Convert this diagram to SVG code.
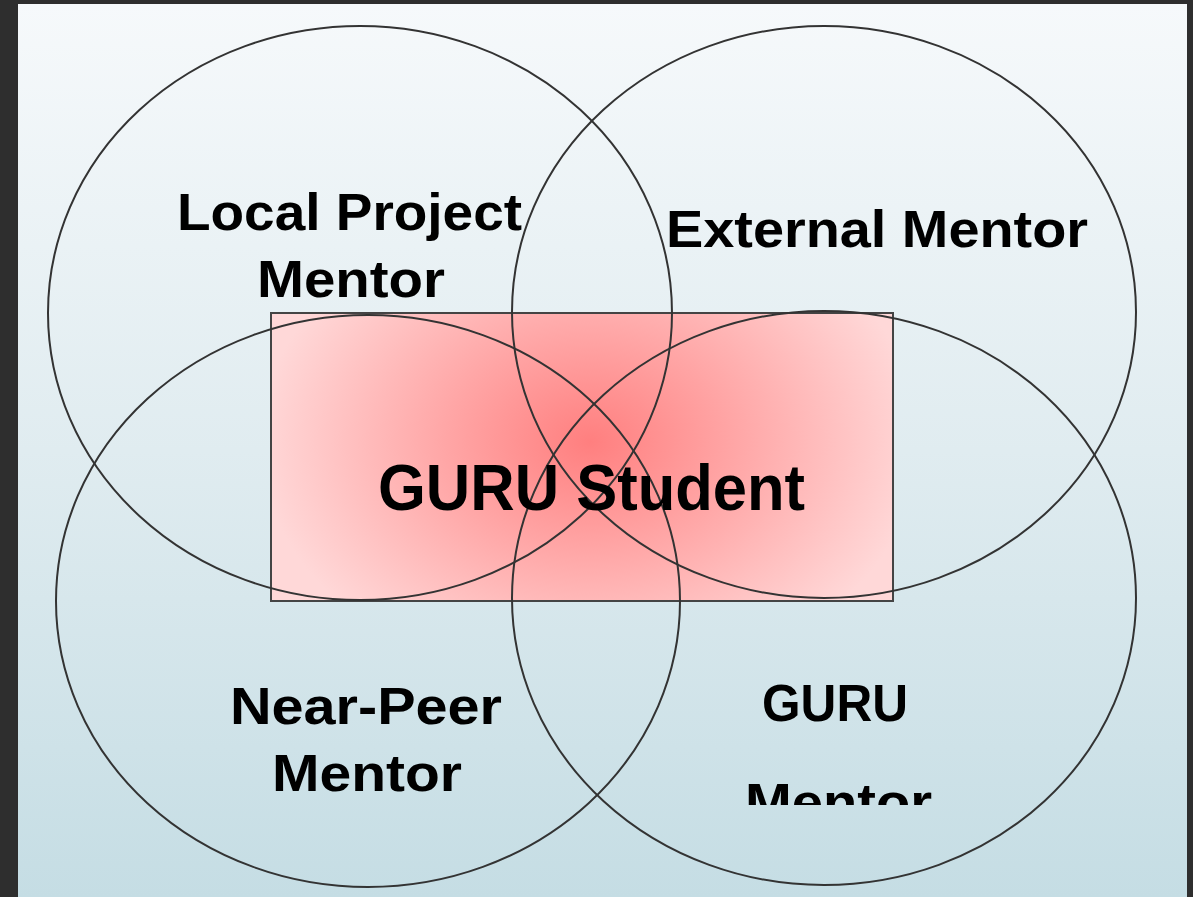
<svg xmlns="http://www.w3.org/2000/svg" width="1193" height="897" viewBox="0 0 1193 897">
<defs>
<linearGradient id="bg" x1="0" y1="0" x2="0" y2="1">
<stop offset="0" stop-color="#f6f9fb"/>
<stop offset="0.5" stop-color="#e0ecf0"/>
<stop offset="1" stop-color="#c5dde4"/>
</linearGradient>
<radialGradient id="rg" gradientUnits="userSpaceOnUse" cx="590" cy="442" r="330" gradientTransform="translate(590 442) scale(1 0.75) translate(-590 -442)">
<stop offset="0" stop-color="#ff7f7f"/>
<stop offset="1" stop-color="#ffd8d8"/>
</radialGradient>
<clipPath id="cut"><rect x="0" y="0" width="1193" height="805"/></clipPath>
<style>
.c{fill:none;stroke:#333;stroke-width:2}
.t{font-family:"Liberation Sans",Arial,sans-serif;font-weight:bold;font-size:52px;fill:#000;text-anchor:middle}
.b{font-size:65px}
</style>
</defs>
<rect x="0" y="0" width="1193" height="897" fill="#2e2e2e"/>
<rect x="18" y="4" width="1169" height="893" fill="url(#bg)"/>
<g id="student">
<rect x="271" y="313" width="622" height="288" fill="url(#rg)" stroke="#444" stroke-width="2"/>
</g>
<g id="circles">
<ellipse id="local" class="c" cx="360" cy="313" rx="312" ry="287"/>
<ellipse id="external" class="c" cx="824" cy="312" rx="312" ry="286"/>
<ellipse id="nearpeer" class="c" cx="368" cy="601" rx="312" ry="286"/>
<ellipse id="guru" class="c" cx="824" cy="598" rx="312" ry="287"/>
</g>
<g id="labels">
<text class="t" x="349.5" y="230" textLength="345" lengthAdjust="spacingAndGlyphs">Local Project</text>
<text class="t" x="351" y="297" textLength="188" lengthAdjust="spacingAndGlyphs">Mentor</text>
<text class="t" x="877" y="247" textLength="422" lengthAdjust="spacingAndGlyphs">External Mentor</text>
<text class="t b" x="591.5" y="510" textLength="427" lengthAdjust="spacingAndGlyphs">GURU Student</text>
<text class="t" x="366" y="724" textLength="272" lengthAdjust="spacingAndGlyphs">Near-Peer</text>
<text class="t" x="367" y="791" textLength="190" lengthAdjust="spacingAndGlyphs">Mentor</text>
<text class="t" x="835" y="721" textLength="146" lengthAdjust="spacingAndGlyphs">GURU</text>
<text class="t" x="838.5" y="820" textLength="187" lengthAdjust="spacingAndGlyphs" clip-path="url(#cut)">Mentor</text>
</g>
</svg>
